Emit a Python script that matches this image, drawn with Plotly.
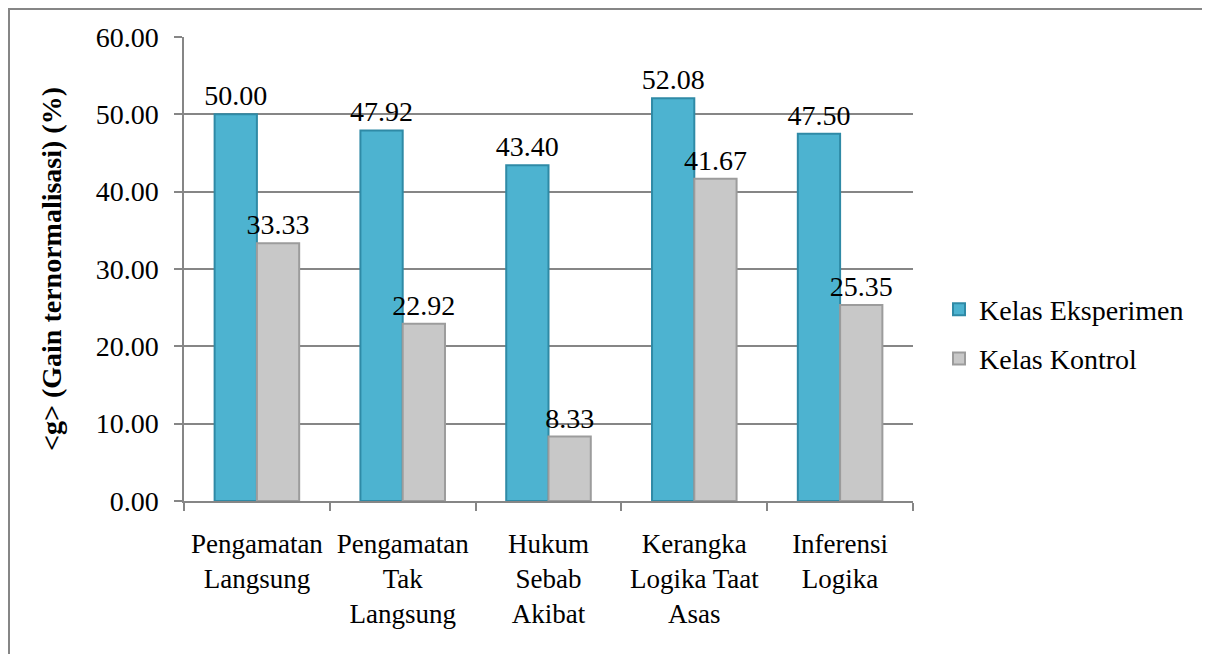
import plotly.graph_objects as go

categories = ["Pengamatan<br>Langsung", "Pengamatan<br>Tak<br>Langsung", "Hukum<br>Sebab<br>Akibat",
              "Kerangka<br>Logika Taat<br>Asas", "Inferensi<br>Logika"]
eksperimen = [50.00, 47.92, 43.40, 52.08, 47.50]
kontrol = [33.33, 22.92, 8.33, 41.67, 25.35]
y_ticks = [0, 10, 20, 30, 40, 50, 60]
y_tick_labels = ["0.00", "10.00", "20.00", "30.00", "40.00", "50.00", "60.00"]

FONT = "Liberation Serif, Times New Roman, serif"
FS = 28

# page body has an 8px margin; figure sized to fit the window
W, H = 1202, 646
L, R, T, B = 176, 297, 29, 153
PW, PH = W - L - R, H - T - B

fig = go.Figure()
fig.add_trace(go.Bar(
    x=categories, y=eksperimen, name="Kelas Eksperimen", legendgroup="e",
    marker=dict(color="#4DB3D0", line=dict(color="#2F8AA6", width=2)),
    text=[f"{v:.2f}" for v in eksperimen], textposition="outside", constraintext="none",
    textfont=dict(family=FONT, size=FS, color="black"), cliponaxis=False,
))
fig.add_trace(go.Bar(
    x=categories, y=kontrol, name="Kelas Kontrol", legendgroup="k",
    marker=dict(color="#C8C8C8", line=dict(color="#9C9C9C", width=2)),
    text=[f"{v:.2f}" for v in kontrol], textposition="outside", constraintext="none",
    textfont=dict(family=FONT, size=FS, color="black"), cliponaxis=False,
))

fig.update_layout(
    width=W, height=H,
    margin=dict(l=L, r=R, t=T, b=B, autoexpand=False),
    paper_bgcolor="white", plot_bgcolor="white",
    barmode="group", bargap=0.42, bargroupgap=0,
    font=dict(family=FONT, size=FS, color="black"),
    showlegend=True,
    legend=dict(x=(931 - L) / PW, y=0.36, xanchor="left", yanchor="middle",
                font=dict(family=FONT, size=FS), tracegroupgap=10, itemwidth=30),
    xaxis=dict(showline=True, linecolor="#868686", linewidth=1.5,
               ticks="outside", ticklen=8, tickcolor="#868686", tickwidth=1.5,
               ticklabelstandoff=18,
               tickson="boundaries", tickfont=dict(family=FONT, size=27),
               automargin=False),
    yaxis=dict(range=[0, 60], tickvals=y_ticks, ticktext=y_tick_labels,
               showline=True, linecolor="#868686", linewidth=1.5,
               ticks="outside", ticklen=8, tickcolor="#868686", tickwidth=1.5,
               ticklabelstandoff=10,
               showgrid=True, gridcolor="#868686", gridwidth=1.5,
               tickfont=dict(family=FONT, size=FS), automargin=False,
               title=dict(text="<b><g> (Gain ternormalisasi) (%)</b>", standoff=26,
                          font=dict(family=FONT, size=FS))),
    shapes=[dict(type="rect", xref="paper", yref="paper",
                 x0=(1 - L) / PW, x1=(W + 50 - L) / PW,
                 y0=-(B + 50) / PH, y1=1 + (T - 1) / PH,
                 line=dict(color="#868686", width=2))],
)

fig.write_html("out.html")
